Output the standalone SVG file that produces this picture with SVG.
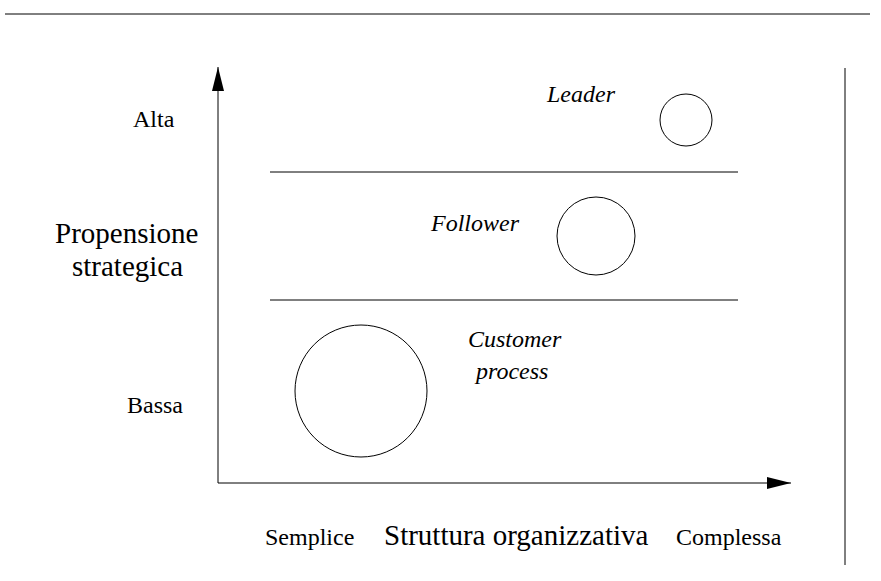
<svg xmlns="http://www.w3.org/2000/svg" width="881" height="581" viewBox="0 0 881 581">
<style>
.ln{stroke:#000;stroke-width:1;fill:none}
.t{font-family:"Liberation Serif","Times New Roman",serif;fill:#000}
.s{font-size:24px}
.b{font-size:29px}
.i{font-size:24px;font-style:italic}
</style>
<defs>
<marker id="ah" viewBox="0 0 24 12" refX="24" refY="6" markerWidth="24" markerHeight="12" markerUnits="userSpaceOnUse" orient="auto">
<path d="M0,0 L24,6 L0,12 Z" fill="#000"/>
</marker>
</defs>
<rect width="881" height="581" fill="#fff"/>
<g id="frame">
<line class="ln" x1="5" y1="14" x2="870" y2="14"/>
<line class="ln" x1="845" y1="68" x2="845" y2="565"/>
</g>
<g id="connectors">
<line class="ln" x1="218" y1="483" x2="218" y2="67" marker-end="url(#ah)"/>
<line class="ln" x1="218" y1="483" x2="791" y2="483" marker-end="url(#ah)"/>
<line class="ln" x1="270" y1="172" x2="738" y2="172"/>
<line class="ln" x1="270" y1="300" x2="738" y2="300"/>
</g>
<g id="leader">
<circle class="ln" cx="686" cy="120" r="26"/>
<text class="t i" x="547" y="102">Leader</text>
</g>
<g id="follower">
<circle class="ln" cx="596" cy="236" r="39"/>
<text class="t i" x="431" y="231">Follower</text>
</g>
<g id="customer">
<circle class="ln" cx="361" cy="391" r="66"/>
<text class="t i" x="468" y="347">Customer</text>
<text class="t i" x="476" y="379">process</text>
</g>
<g id="labels">
<text class="t s" x="133" y="127">Alta</text>
<text class="t s" x="127" y="413">Bassa</text>
<text class="t b" x="55" y="243">Propensione</text>
<text class="t b" x="72" y="276">strategica</text>
<text class="t s" x="265" y="545">Semplice</text>
<text class="t b" x="384" y="545">Struttura organizzativa</text>
<text class="t s" x="676" y="545">Complessa</text>
</g>
</svg>
